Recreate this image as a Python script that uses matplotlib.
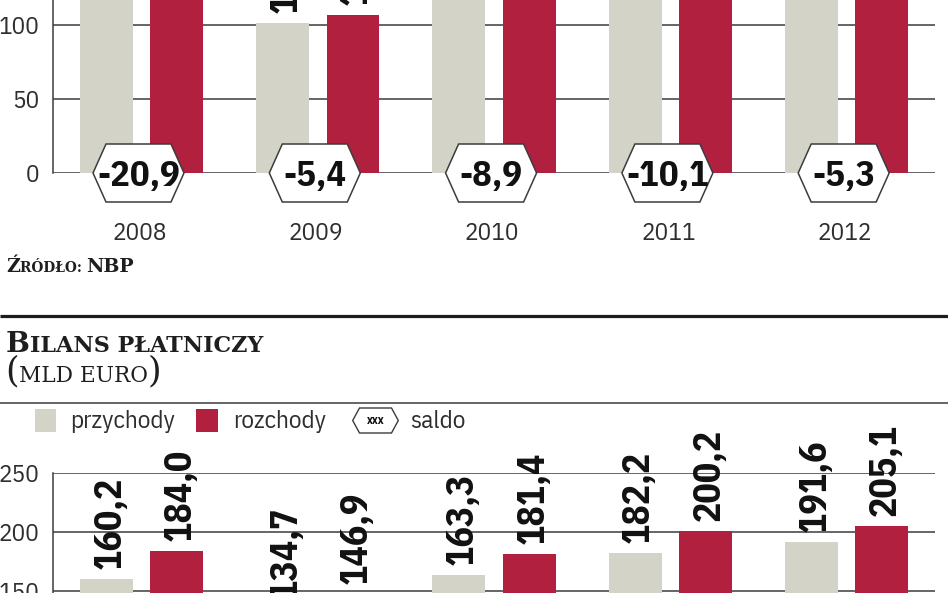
import numpy as np
import matplotlib
matplotlib.use("Agg")
import matplotlib.pyplot as plt
from matplotlib import font_manager as fm
from matplotlib.patches import Polygon, Rectangle
import matplotlib.transforms as mtransforms

# ---------------------------------------------------------------- data
years = ["2008", "2009", "2010", "2011", "2012"]

# upper panel: trade in goods (mld euro)
handel_przychody = [121.0, 101.3, 120.4, 135.6, 143.2]
handel_rozchody = [141.9, 106.7, 129.3, 145.7, 148.5]
handel_saldo = [-20.9, -5.4, -8.9, -10.1, -5.3]
handel_ticks = [0, 50, 100, 150]

# lower panel: balance of payments (mld euro)
bilans_przychody = [160.2, 134.7, 163.3, 182.2, 191.6]
bilans_rozchody = [184.0, 146.9, 181.4, 200.2, 205.1]
bilans_saldo = [-23.8, -12.2, -18.1, -18.0, -13.5]
bilans_ticks = [0, 50, 100, 150, 200, 250]

legend_labels = ["przychody", "rozchody", "saldo"]
legend_sample = "xxx"
source_text = "Źródło: NBP"
title_text = "Bilans płatniczy"
unit_text = "(mld euro)"

# ---------------------------------------------------------------- style
GRAY = "#d3d4c7"
RED = "#b2203f"
LINE = "#3c3c3c"
TXT = "#2e2e2e"
W, H = 948, 593

available = {f.name for f in fm.fontManager.ttflist}


def pick(cands, default):
    for c in cands:
        if c in available:
            return c
    return default


SANS = pick(["IBM Plex Sans Condensed", "Open Sans Condensed", "Roboto Condensed",
             "Liberation Sans Narrow"], "DejaVu Sans")
# wide slab-like serif with full Polish coverage for the headings
SLAB = "DejaVu Serif"

fig = plt.figure(figsize=(W / 100, H / 100), dpi=100)
renderer = fig.canvas.get_renderer()


def size_for_height(sample, target_px, family, weight="normal"):
    """Font size (pt) whose glyph ink height for `sample` is target_px."""
    prop = fm.FontProperties(family=family, weight=weight, size=100)
    w, h, d = renderer.get_text_width_height_descent(sample, prop, ismath=False)
    return 100 * target_px / max(h, 1e-6)


def fmt(v):
    return f"{v:.1f}".replace(".", ",")


def hexagon(ax, xy, half_w, half_top, half_h, dx=0.0, coords=None, **kw):
    verts = [(-half_w, 0), (-half_top, half_h), (half_top, half_h),
             (half_w, 0), (half_top, -half_h), (-half_top, -half_h)]
    base = coords if coords is not None else ax.transData
    tr = mtransforms.Affine2D().translate(dx, 0) + \
        mtransforms.ScaledTranslation(xy[0], xy[1], base)
    p = Polygon(verts, closed=True, transform=tr, clip_on=False, **kw)
    ax.add_patch(p)
    return p


# font sizes calibrated to glyph heights (pixels)
fs_tick = size_for_height("0123456789", 18.5, SANS, "normal")
fs_hex = size_for_height("0123456789", 26.5, SANS, "bold")
fs_bar = size_for_height("0123456789", 27.5, SANS, "bold")

# ---------------------------------------------------------------- panels
X_LEFT, X_RIGHT = 53, 935
x = np.arange(len(years))


def make_panel(y_zero, px_per_unit, ymax):
    height = ymax * px_per_unit
    return fig.add_axes([X_LEFT / W, (H - y_zero) / H,
                         (X_RIGHT - X_LEFT) / W, height / H])


def draw_panel(ax, przych, rozch, saldo, ticks, ymax):
    ax.bar(x - 0.2, przych, 0.3, color=GRAY, zorder=2)
    ax.bar(x + 0.2, rozch, 0.3, color=RED, zorder=2)
    ax.set_xlim(-0.502, 4.501)
    ax.set_ylim(0, ymax)
    ax.set_yticks(ticks)
    ax.set_xticks([])
    ax.set_axisbelow(True)
    ax.yaxis.grid(True, color=LINE, lw=1.1)
    ax.patch.set_alpha(0)
    for side in ("top", "right", "bottom"):
        ax.spines[side].set_visible(False)
    ax.spines["left"].set_color(LINE)
    ax.spines["left"].set_linewidth(1.1)
    ax.tick_params(axis="y", length=0, pad=10, labelsize=fs_tick,
                   labelcolor=TXT)
    for lab in ax.get_yticklabels():
        lab.set_fontfamily(SANS)
        lab.set_fontweight("normal")

    for xs, vals in ((x - 0.2, przych), (x + 0.2, rozch)):
        for xi, v in zip(xs, vals):
            ax.annotate(fmt(v), xy=(xi, v), xytext=(14, 10),
                        textcoords="offset pixels", rotation=90,
                        rotation_mode="anchor", ha="left", va="baseline",
                        fontsize=fs_bar, fontweight="bold", family=SANS,
                        color="#111111", annotation_clip=False, zorder=5)

    for xi, s, yr in zip(x, saldo, years):
        hexagon(ax, (xi, 0), 45.5, 32.5, 29, dx=-3, facecolor="white",
                edgecolor=LINE, lw=1.1, zorder=4)
        ax.annotate(fmt(s), xy=(xi, 0), xytext=(-3, -13),
                    textcoords="offset pixels", ha="center", va="baseline",
                    fontsize=fs_hex, fontweight="bold", family=SANS,
                    color="#111111", annotation_clip=False, zorder=5)
        ax.annotate(yr, xy=(xi, 0), xytext=(-2, -67),
                    textcoords="offset pixels", ha="center", va="baseline",
                    fontsize=fs_tick, fontweight="normal", family=SANS,
                    color=TXT, annotation_clip=False)


ax_top = make_panel(173.0, 74.2 / 50, 170)
draw_panel(ax_top, handel_przychody, handel_rozchody, handel_saldo,
           handel_ticks, 170)

ax_bot = make_panel(472.7 + 250 * 59.0 / 50, 59.0 / 50, 250)
draw_panel(ax_bot, bilans_przychody, bilans_rozchody, bilans_saldo,
           bilans_ticks, 250)

# ---------------------------------------------------------------- overlay (pixel coordinates, origin top-left)
ov = fig.add_axes([0, 0, 1, 1])
ov.set_xlim(0, W)
ov.set_ylim(H, 0)
ov.axis("off")

ov.plot([0, W], [316, 316], color="#1c1c1c", lw=2.3, solid_capstyle="butt")
ov.plot([0, W], [402.5, 402.5], color=LINE, lw=1.1, solid_capstyle="butt")


def small_caps(x0, y_base, text, big_px, small_px, weight, paren_px=None):
    """Draw text in small caps: capitals at big size, lower case as small capitals."""
    fs_big = size_for_height("HNB", big_px, SLAB, weight)
    fs_small = size_for_height("HNB", small_px, SLAB, weight)
    fs_par = size_for_height("()", paren_px, SLAB, weight) if paren_px else fs_big
    runs = []
    for ch in text:
        if ch in "()":
            kind = "par"
        elif ch.isupper():
            kind = "big"
        elif ch == " " and runs:
            kind = runs[-1][0]
        else:
            kind = "small"
        if runs and runs[-1][0] == kind:
            runs[-1][1] += ch
        else:
            runs.append([kind, ch])
    xpos = x0
    for kind, chunk in runs:
        size = {"big": fs_big, "small": fs_small, "par": fs_par}[kind]
        t = ov.text(xpos, y_base, chunk.upper(), fontsize=size, fontweight=weight,
                    family=SLAB, color="#1e1e1e", ha="left", va="baseline")
        xpos += t.get_window_extent(renderer).width


small_caps(6, 271.7, source_text, 13.8, 10.0, "bold")
small_caps(6, 351.7, title_text, 20.5, 16.2, "bold")
small_caps(5, 381.7, unit_text, 20.0, 16.0, "normal", paren_px=32.0)

# legend
ov.add_patch(Rectangle((35, 409), 21.5, 22.5, color=GRAY, lw=0))
ov.text(70, 428, legend_labels[0], fontsize=fs_tick, fontweight="normal",
        family=SANS, color=TXT, ha="left", va="baseline")
ov.add_patch(Rectangle((196, 409), 22, 22.5, color=RED, lw=0))
ov.text(233, 428, legend_labels[1], fontsize=fs_tick, fontweight="normal",
        family=SANS, color=TXT, ha="left", va="baseline")
hexagon(ov, (375.5, 420.5), 22.8, 16, 12.5, coords=ov.transData,
        facecolor="white", edgecolor=LINE, lw=1.0)
ov.text(375.5, 421, legend_sample, fontsize=8.5, fontweight="bold", family=SANS,
        color="#111111", ha="center", va="center")
ov.text(410, 428, legend_labels[2], fontsize=fs_tick, fontweight="normal",
        family=SANS, color=TXT, ha="left", va="baseline")

fig.savefig("out.png", dpi=100)
